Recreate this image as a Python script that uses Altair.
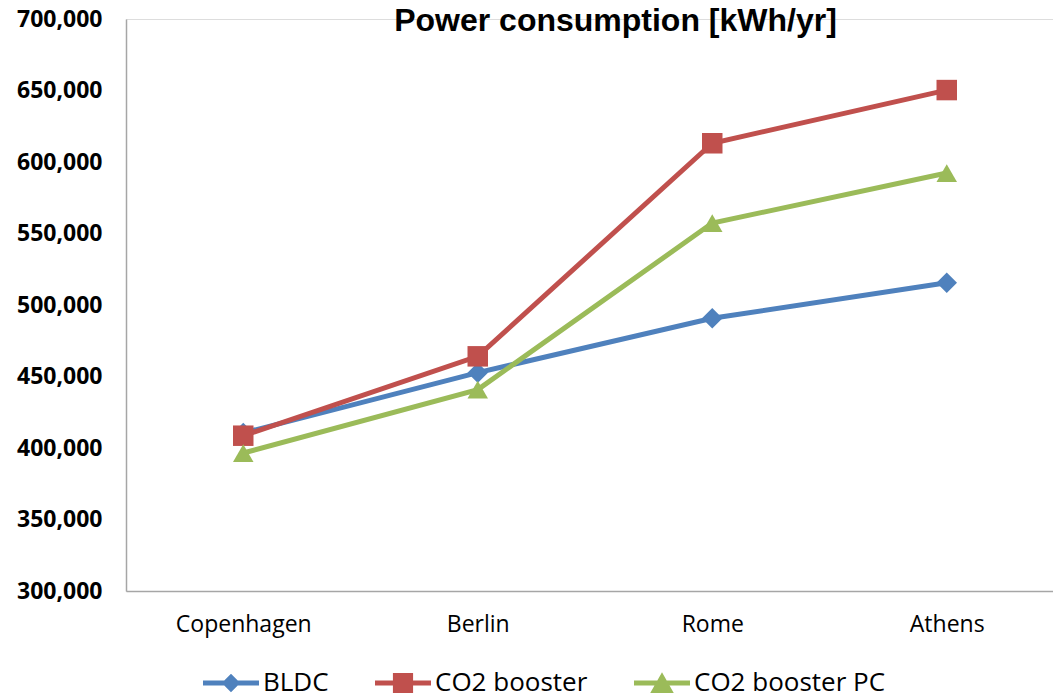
import altair as alt
import pandas as pd

# Annual power consumption per climate location (kWh/yr)
cities = ["Copenhagen", "Berlin", "Rome", "Athens"]
series_names = ["BLDC", "CO2 booster", "CO2 booster PC"]
bldc = [410500, 452700, 490700, 515600]
co2_booster = [408600, 464100, 613100, 650300]
co2_booster_pc = [396500, 440800, 557300, 592300]

colors = ["#4F81BD", "#C0504D", "#9BBB59"]
marker_shapes = ["diamond", "square", "triangle-up"]
y_ticks = [300000, 350000, 400000, 450000, 500000, 550000, 600000, 650000, 700000]

# Legend glyphs: a short line segment with the series marker on top
legend_glyphs = [
    "M-1,-0.09H1V0.09H-1Z M0,-0.33L0.33,0L0,0.33L-0.33,0Z",
    "M-1,-0.09H1V0.09H-1Z M-0.36,-0.36H0.36V0.36H-0.36Z",
    "M-1,-0.09H1V0.09H-1Z M0,-0.38L0.42,0.36H-0.42Z",
]

rows = []
for name, values in zip(series_names, [bldc, co2_booster, co2_booster_pc]):
    for city, v in zip(cities, values):
        rows.append({"city": city, "series": name, "kwh": v})
df = pd.DataFrame(rows)

label_font = "Open Sans"

x_enc = alt.X(
    "city:N",
    sort=cities,
    scale=alt.Scale(type="point", domain=cities, range=[0, 938], padding=0.5),
    axis=alt.Axis(
        title=None,
        labelAngle=0,
        labelFont=label_font,
        labelFontSize=23,
        labelColor="#000000",
        labelPadding=22,
        ticks=False,
        domainColor="#A6A6A6",
        domainWidth=1.5,
        grid=False,
    ),
)
y_enc = alt.Y(
    "kwh:Q",
    scale=alt.Scale(domain=[300000, 700000], nice=False, zero=False),
    axis=alt.Axis(
        title=None,
        values=y_ticks,
        format=",.0f",
        labelFont=label_font,
        labelFontSize=23,
        labelFontWeight="bold",
        labelColor="#000000",
        labelPadding=24,
        ticks=False,
        domainColor="#A6A6A6",
        domainWidth=1.5,
        grid=False,
    ),
)
color_scale = alt.Scale(domain=series_names, range=colors)

lines = alt.Chart(df).mark_line(strokeWidth=5).encode(
    x=x_enc,
    y=y_enc,
    color=alt.Color("series:N", scale=color_scale, legend=None),
)

points = alt.Chart(df).mark_point(filled=True, size=420, opacity=1).encode(
    x=x_enc,
    y=y_enc,
    color=alt.Color("series:N", scale=color_scale, legend=None),
    shape=alt.Shape(
        "series:N",
        scale=alt.Scale(domain=series_names, range=marker_shapes),
        legend=None,
    ),
)

legend_props = dict(
    title=None,
    orient="none",
    legendX=77,
    legendY=636,
    direction="horizontal",
    symbolSize=3136,
    symbolOpacity=1,
    symbolStrokeWidth=0,
    labelFont=label_font,
    labelFontSize=26,
    labelColor="#000000",
    labelOffset=4,
    labelLimit=400,
    columnPadding=46,
)

legend_layer = alt.Chart(df).mark_point(filled=True, opacity=0).encode(
    x=x_enc,
    y=y_enc,
    color=alt.Color("series:N", scale=color_scale, legend=alt.Legend(**legend_props)),
    shape=alt.Shape(
        "series:N",
        scale=alt.Scale(domain=series_names, range=legend_glyphs),
        legend=alt.Legend(**legend_props),
    ),
)

chart = (
    alt.layer(lines, points, legend_layer)
    .resolve_scale(color="independent", shape="independent")
    .properties(
        width=927,
        height=572,
        autosize=alt.AutoSizeParams(type="none"),
        padding={"left": 126, "top": 19, "right": 0, "bottom": 108},
        title=alt.TitleParams(
            text="Power consumption [kWh/yr]",
            font="Liberation Sans",
            fontSize=32,
            fontWeight="bold",
            color="#000000",
            anchor="middle",
            frame="group",
            baseline="alphabetic",
            dx=26,
            offset=-55,
        ),
    )
    .configure_view(stroke=None)
    .configure(background="#FFFFFF")
)

chart.save("out.html", embed_options={"renderer": "svg", "actions": False})
